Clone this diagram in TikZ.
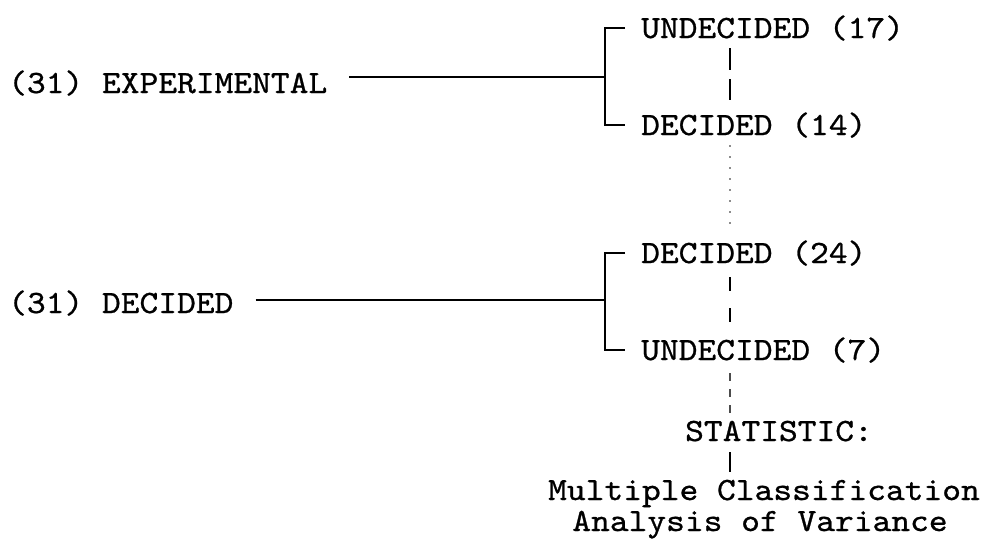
\documentclass[tikz,border=0pt]{standalone}
\usepackage{fontspec}
\newfontfamily\twfont{lmmono10-regular}[Extension=.otf, FakeStretch=1.1, FakeBold=0.8]
\begin{document}
\begin{tikzpicture}[x=1pt,y=-1pt,
  lbl/.style={font=\fontsize{32.5}{38}\selectfont\twfont,
    inner sep=0pt, text height=20pt, text depth=0pt, anchor=west},
  link/.style={line width=2.4pt},
  vdash/.style={line width=1.6pt, dash pattern=on 22pt off 9pt},
  vfaint/.style={line width=1.2pt, black!45, dash pattern=on 2pt off 9pt}]
\useasboundingbox (0,0) rectangle (990,539);
% labels
\node[lbl] (exp) at (8,83) {(31) EXPERIMENTAL};
\node[lbl] (dec) at (8,303) {(31) DECIDED};
\node[lbl] (u17) at (641,28) {UNDECIDED (17)};
\node[lbl] (d14) at (641,125) {DECIDED (14)};
\node[lbl] (d24) at (641,253) {DECIDED (24)};
\node[lbl] (u7) at (641,350) {UNDECIDED (7)};
\node[lbl, anchor=center] (stat) at (779,431) {STATISTIC:};
\node[lbl, anchor=center] (mca1) at (764,490) {Multiple Classification};
\node[lbl, anchor=center] (mca2) at (760,521) {Analysis of Variance};
% bracket joints
\coordinate (b1) at (605,77);
\coordinate (b2) at (605,300);
\coordinate (vx) at (730,0);
% group 1
\draw[link] ([xshift=22pt]exp.east |- b1) -- (b1);
\draw[link] ([xshift=-16pt]u17.west) -- (u17.west -| b1) -- (d14.west -| b1) -- ([xshift=-16pt]d14.west);
% group 2
\draw[link] ([xshift=22pt]dec.east |- b2) -- (b2);
\draw[link] ([xshift=-16pt]d24.west) -- (d24.west -| b2) -- (u7.west -| b2) -- ([xshift=-16pt]u7.west);
% vertical dashed guide
\draw[vdash] ([yshift=-10pt]vx |- u17.south) -- ([yshift=15pt]vx |- d14.north);
\draw[vfaint] ([yshift=-10pt]vx |- d14.south) -- ([yshift=12pt]vx |- d24.north);
\draw[vdash, dash pattern=on 14pt off 17pt] ([yshift=-14pt]vx |- d24.south) -- ([yshift=16pt]vx |- u7.north);
\draw[vdash, black!70, dash pattern=on 8pt off 8pt] ([yshift=-13pt]vx |- u7.south) -- ([yshift=6pt]vx |- stat.north);
\draw[vdash, dash pattern=] ([yshift=-11pt]vx |- stat.south) -- ([yshift=8pt]vx |- mca1.north);
\end{tikzpicture}
\end{document}
